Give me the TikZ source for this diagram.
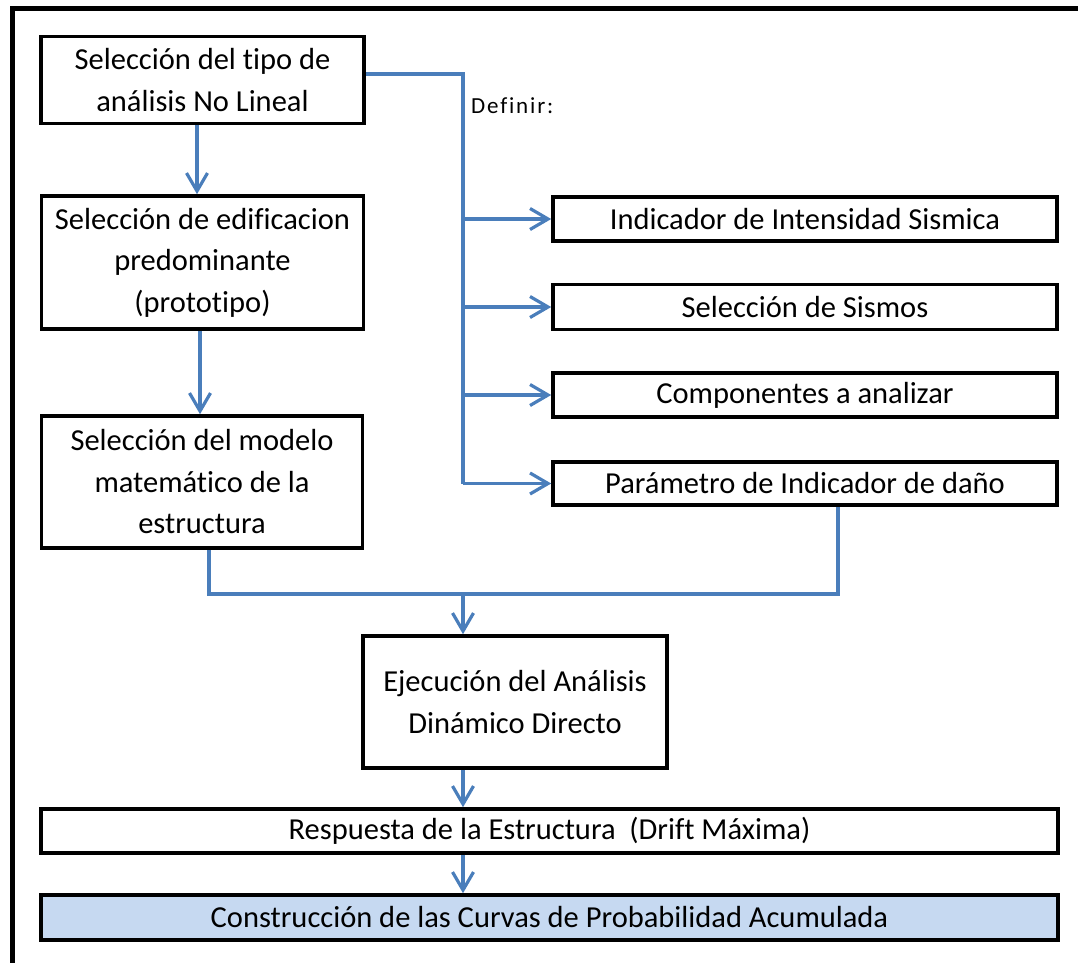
\documentclass[tikz,border=0pt]{standalone}
\usepackage{fontspec}
\setmainfont{Carlito}[Ligatures=NoCommon]
\usetikzlibrary{arrows.meta}
\definecolor{lnblue}{HTML}{4A7EBB}
\definecolor{fillblue}{HTML}{C6D9F1}
\begin{document}
\begin{tikzpicture}[x=1pt,y=-1pt,
  box/.style={draw, line width=3.6pt, inner sep=0pt, align=center,
    font=\fontsize{30.5}{41.5}\selectfont},
  link/.style={draw=lnblue, line width=3.2pt},
  arr/.style={link, -{Straight Barb[length=18pt,width=21pt]}},
  lbl/.style={inner sep=0pt, font=\fontsize{23}{27}\selectfont\addfontfeature{LetterSpace=8}}]
\useasboundingbox (0,0) rectangle (1078,962);
\begin{scope}
  \clip (0,0) rectangle (1078,962);
  \draw[line width=5pt] (12,1000) -- (12,8.5) -- (1100,8.5);
\end{scope}
% left column
\node[box, minimum width=323, minimum height=87] (A) at (202.5,80) {Selección del tipo de\\análisis No Lineal};
\node[box, minimum width=322, minimum height=133] (B) at (202.5,262.5) {Selección de edificacion\\predominante\\(prototipo)};
\node[box, minimum width=321, minimum height=132] (C) at (202,482) {Selección del modelo\\matemático de la\\estructura};
% right column
\node[box, minimum width=504, minimum height=44] (R1) at (805,219) {Indicador de Intensidad Sismica};
\node[box, minimum width=504, minimum height=45] (R2) at (805,307) {Selección de Sismos};
\node[box, minimum width=504, minimum height=44] (R3) at (805,395) {Componentes a analizar};
\node[box, minimum width=504, minimum height=43] (R4) at (805,483.5) {Parámetro de Indicador de daño};
% lower part
\node[box, minimum width=304, minimum height=132] (D) at (515,702) {Ejecución del Análisis\\Dinámico Directo};
\node[box, minimum width=1017, minimum height=44] (E) at (549.5,831) {Respuesta de la Estructura\ \ (Drift Máxima)};
\node[box, fill=fillblue, minimum width=1017, minimum height=45] (F) at (549.5,917.5) {Construcción de las Curvas de Probabilidad Acumulada};
% label
\node[lbl, anchor=base west] (def) at (471,113) {Definir:};
% helper coordinates
\coordinate (a1) at (197,0);
\coordinate (a2) at (200,0);
\coordinate (jt) at (463,74);
\coordinate (cl) at (209,594);
\coordinate (cr) at (838,594);
\coordinate (m) at (463,594);
% connectors
\draw[arr] (A.south -| a1) -- (B.north -| a1);
\draw[arr] (B.south -| a2) -- (C.north -| a2);
\draw[link] (A.east |- jt) -- (jt) -- (jt |- R4.west);
\draw[arr] (jt |- R1.west) -- (R1.west);
\draw[arr] (jt |- R2.west) -- (R2.west);
\draw[arr] (jt |- R3.west) -- (R3.west);
\draw[arr] (jt |- R4.west) -- (R4.west);
\draw[link] (C.south -| cl) -- (cl) -- (cr) -- (R4.south -| cr);
\draw[arr] (m) -- (D.north -| m);
\draw[arr] (D.south -| m) -- (E.north -| m);
\draw[arr] (E.south -| m) -- (F.north -| m);
\end{tikzpicture}
\end{document}
